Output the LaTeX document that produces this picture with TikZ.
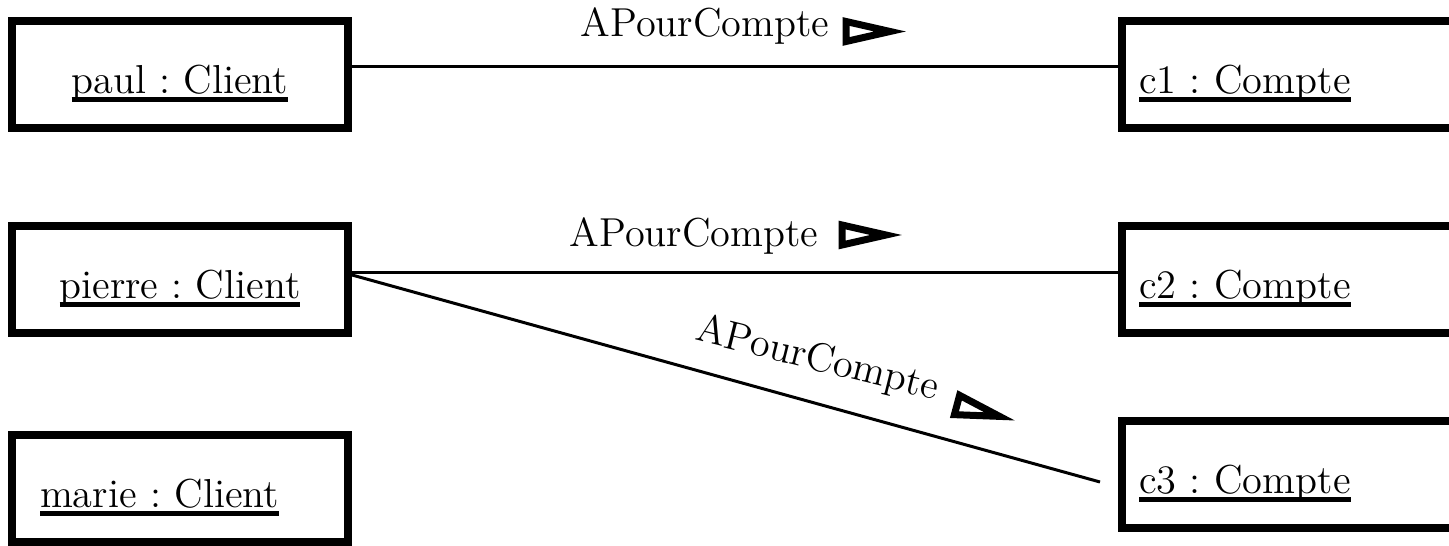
\documentclass[tikz,border=0pt]{standalone}
\usepackage{tikz}
\usetikzlibrary{positioning}

% thick underline for the object names
\newcommand{\objname}[1]{\leavevmode\setbox0\hbox{#1}\rlap{\vrule height -0.08em depth 0.2em width \wd0}\box0}

\tikzset{
  objbox/.style={draw, line width=0.08cm, font=\fontsize{11.5}{14}\selectfont\frenchspacing,
    minimum width=3.36cm, minimum height=1.07cm, text height=0.46cm, text depth=0.08cm},
  accbox/.style={objbox, anchor=west, text width=3.8cm, align=left, inner xsep=0.17cm},
  assoc/.style={line width=0.03cm},
  assoclab/.style={font=\fontsize{11.5}{14}\selectfont, inner sep=0pt},
  dirtri/.pic={\draw[line width=0.07cm, line join=miter] (0,-0.1) -- (0,0.1) -- (0.44,0) -- cycle;}
}

\begin{document}
\begin{tikzpicture}

\useasboundingbox (0,0) rectangle (14.49,5.46);
\clip (0,0) rectangle (14.49,5.46);

% clients
{
\node[objbox] (paul) at (1.80,4.715) {\objname{paul : Client}};
\node[objbox] (pierre) at (1.80,2.66) {\objname{pierre : Client}};
\node[objbox, text width=2.80cm, align=left, inner xsep=0.28cm] (marie) at (1.80,0.575) {\objname{marie : Client}};
}

% comptes
{
\node[accbox] (c1) at (11.18,4.715) {\objname{c1 : Compte}};
\node[accbox] (c2) at (11.18,2.66) {\objname{c2 : Compte}};
\node[accbox] (c3) at (11.18,0.715) {\objname{c3 : Compte}};
}

\coordinate (c3end) at ([xshift=-0.18cm,yshift=-0.075cm]c3.west);

% links
\draw[assoc] ([yshift=0.08cm]paul.east) -- ([yshift=0.08cm]c1.west);
\draw[assoc] ([yshift=0.07cm]pierre.east) -- ([yshift=0.07cm]c2.west);
\draw[assoc] ([yshift=0.05cm]pierre.east) -- (c3end);

% nodes
{
\node[assoclab, anchor=base] (lab1) at (7.05,5.09) {APourCompte};
\node[assoclab, anchor=base] (lab2) at (6.94,2.99) {APourCompte};
\node[assoclab, anchor=base, rotate=-14] (lab3) at (8.15,1.76) {APourCompte};
}

%\pic at (lab1.east) {dirtri};
\pic at (8.46,5.145) {dirtri};
\pic at (8.42,3.11) {dirtri};
\pic[rotate=-15] at (9.57,1.41) {dirtri};

\end{tikzpicture}
\end{document}
